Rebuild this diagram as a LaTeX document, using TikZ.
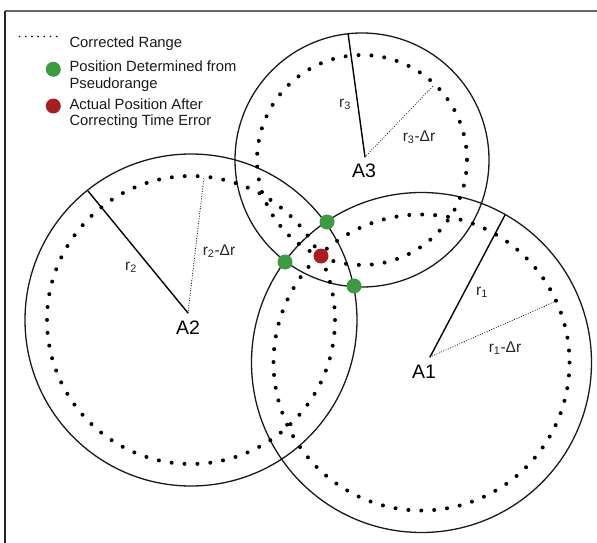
\documentclass[tikz,border=0pt]{standalone}
\usepackage{fontspec}
\setmainfont{Liberation Sans}
\usetikzlibrary{positioning, calc}
\definecolor{fixgreen}{RGB}{62,154,66}
\definecolor{truered}{RGB}{168,30,32}
\tikzset{
  ring/.style={draw=black!90, line width=1.3pt},
  dotring/.style={line width=4pt, line cap=round, dash pattern=on 0pt off 12.93pt},
  rad/.style={line width=1.4pt},
  drad/.style={line width=1.1pt, line cap=round, dash pattern=on 0pt off 2.5pt},
  fix/.style={circle, fill=fixgreen, minimum size=15pt, inner sep=0pt},
  truepos/.style={fix, fill=truered},
  anchorlbl/.style={anchor=base, inner sep=0pt, font=\fontsize{19.5}{19.5}\selectfont},
  lbl/.style={anchor=base, inner sep=0pt, text=black!85, font=\fontsize{15.5}{15.5}\selectfont},
  legend/.style={anchor=north west, inner sep=0pt, align=left, text=black!90, font=\fontsize{14.8}{16.3}\selectfont}
}
\begin{document}
\begin{tikzpicture}[x=1pt, y=-1pt]
\useasboundingbox (0,0) rectangle (597,543);
\draw[black!60, line width=1.5pt] (5,11) -- (597,11);
\draw[black!85, line width=1.1pt] (5,11) -- (5,543);
\coordinate (c1) at (421.5,362.5);
\coordinate (c2) at (191,320);
\coordinate (c3) at (362,160);
\draw[ring] (c1) circle[radius=170];
\draw[ring] (c2) circle[radius=166];
\draw[ring] (c3) circle[radius=127];
\draw[dotring] (c1) circle[radius=148];
\draw[dotring] (c2) circle[radius=144];
\draw[dotring] (c3) circle[radius=105];
\coordinate (a1) at (430,357);
\coordinate (a2) at (188,313);
\coordinate (a3) at (365,157);
\coordinate (e1) at (505,215);
\coordinate (e2) at (88,191);
\coordinate (e3) at (348,33);
\coordinate (f1) at (556,301);
\coordinate (f2) at (204,177);
\coordinate (f3) at (434,85);
\draw[rad] (a1) -- (e1);
\draw[rad] (a2) -- (e2);
\draw[rad] (a3) -- (e3);
\draw[drad] (a1) -- (f1);
\draw[drad] (a2) -- (f2);
\draw[drad] (a3) -- (f3);
\node[anchorlbl] (A1) at (424,378) {A1};
\node[anchorlbl] (A2) at (188,334) {A2};
\node[anchorlbl] (A3) at (364,177) {A3};
\node[lbl] (r1) at (482,295) {r\textsubscript{1}};
\node[lbl] (r2) at (131,270) {r\textsubscript{2}};
\node[lbl] (r3) at (345,107) {r\textsubscript{3}};
\node[lbl] (dr1) at (505,352) {r\textsubscript{1}-Δr};
\node[lbl] (dr2) at (219,255) {r\textsubscript{2}-Δr};
\node[lbl] (dr3) at (419,141) {r\textsubscript{3}-Δr};
\node[fix] (g12) at (327,222) {};
\node[fix] (g13) at (285,262) {};
\node[fix] (g23) at (354,286) {};
\node[truepos] (tp) at (321,256) {};
\coordinate (ks) at (19.5,36.5);
\coordinate (ke) at (57,36.5);
\draw[line width=1.8pt, line cap=round, dash pattern=on 0pt off 6.2pt] (ks) -- (ke);
\node[legend] (kr) at (69.3,36.4) {Corrected Range};
\node[fix] (kg) at (53.3,69.3) {};
\node[legend] (kgt) at (69.3,61) {Position Determined from\\Pseudorange};
\node[truepos] (kt) at (53.3,106) {};
\node[legend] (ktt) at (69.3,98.7) {Actual Position After\\Correcting Time Error};
\end{tikzpicture}
\end{document}
